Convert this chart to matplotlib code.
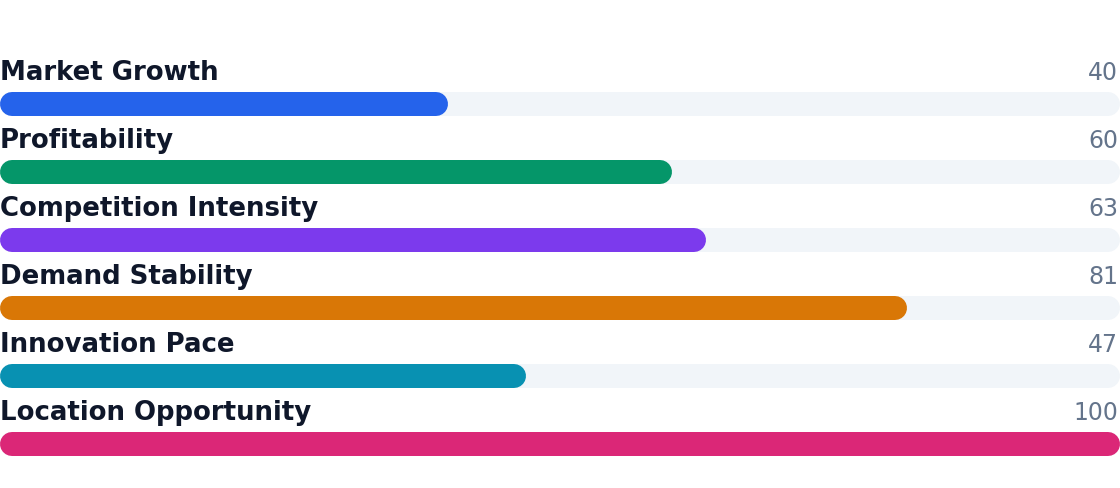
import matplotlib
matplotlib.use("Agg")
import matplotlib.pyplot as plt

# data
labels = ["Market Growth", "Profitability", "Competition Intensity",
          "Demand Stability", "Innovation Pace", "Location Opportunity"]
values = [40, 60, 63, 81, 47, 100]
colors = ["#2563eb", "#059669", "#7c3aed", "#d97706", "#0891b2", "#db2777"]
max_value = 100

W, H = 1120, 488
DPI = 100
fig = plt.figure(figsize=(W / DPI, H / DPI), dpi=DPI)
ax = fig.add_axes([0, 0, 1, 1])
ax.set_xlim(0, W)
ax.set_ylim(H, 0)
ax.axis("off")

bar_h = 24
first_top = 92
step = 68
lw = bar_h * 72 / DPI  # bar thickness in points
r = bar_h / 2


def capsule(x0, x1, yc, color):
    # round capped line == pill shaped bar
    ax.plot([x0 + r, x1 - r], [yc, yc], color=color, lw=lw,
            solid_capstyle="round", antialiased=True)


for i, (lab, val, col) in enumerate(zip(labels, values, colors)):
    top = first_top + i * step
    yc = top + bar_h / 2
    capsule(0, W, yc, "#f1f5f9")
    capsule(0, W * val / max_value, yc, col)
    ax.text(0, top - 12, lab, ha="left", va="baseline", fontsize=18.7,
            fontweight="bold", color="#0f172a")
    ax.text(W - 2, top - 12, str(val), ha="right", va="baseline", fontsize=17,
            color="#64748b")

fig.savefig("out.png", dpi=DPI)
